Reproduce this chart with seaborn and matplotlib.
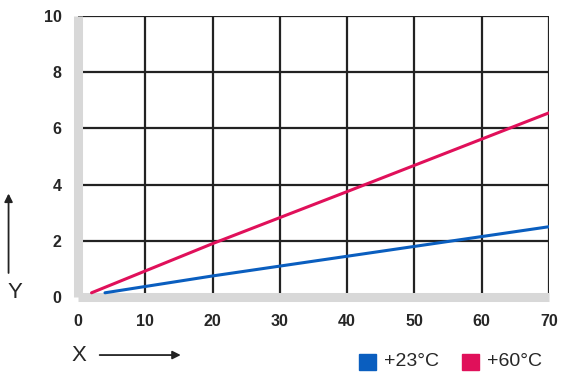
import matplotlib
matplotlib.use("Agg")
import matplotlib.pyplot as plt
import seaborn as sns
import pandas as pd

# values
x_23 = [4, 20, 40, 70]
y_23 = [0.15, 0.75, 1.45, 2.5]
x_60 = [2, 20, 40, 70]
y_60 = [0.15, 1.9, 3.75, 6.55]
series = ["+23°C", "+60°C"]
colors = ["#0a5ebf", "#e0105a"]
xticks = [0, 10, 20, 30, 40, 50, 60, 70]
yticks = [0, 2, 4, 6, 8, 10]

df = pd.concat([
    pd.DataFrame({"x": x_23, "y": y_23, "temp": series[0]}),
    pd.DataFrame({"x": x_60, "y": y_60, "temp": series[1]}),
])

sns.set_style("white")
plt.rcParams["font.family"] = ["Liberation Sans", "DejaVu Sans"]

fig = plt.figure(figsize=(5.7, 3.83), dpi=100)
ax = fig.add_axes([0.137, 0.2245, 0.826, 0.734])

sns.lineplot(data=df, x="x", y="y", hue="temp", palette=colors, linewidth=2.2,
             legend=False, ax=ax, zorder=3)

ax.set_xlim(0, 70)
ax.set_ylim(0, 10)
ax.set_xticks(xticks)
ax.set_yticks(yticks)
ax.grid(True, color="#222222", linewidth=1.6)
ax.set_axisbelow(True)
for s in ["top", "right"]:
    ax.spines[s].set_visible(False)
for s in ["left", "bottom"]:
    ax.spines[s].set_color("#d8d8d8")
    ax.spines[s].set_linewidth(6.5)
    ax.spines[s].set_capstyle("butt")
ax.tick_params(axis="both", length=4, width=1.6, color="#222222", labelsize=11.5, pad=8)
for lab in ax.get_xticklabels() + ax.get_yticklabels():
    lab.set_fontweight("bold")
ax.set_xlabel("")
ax.set_ylabel("")

# axis names with arrows
fig.text(0.014, 0.236, "Y", fontsize=16, ha="left", va="center")
fig.add_artist(matplotlib.patches.FancyArrowPatch((0.015, 0.28), (0.015, 0.502),
               transform=fig.transFigure, arrowstyle="-|>", mutation_scale=12,
               color="#222222", linewidth=1.3))
fig.text(0.126, 0.073, "X", fontsize=16, ha="left", va="center")
fig.add_artist(matplotlib.patches.FancyArrowPatch((0.17, 0.073), (0.322, 0.073),
               transform=fig.transFigure, arrowstyle="-|>", mutation_scale=12,
               color="#222222", linewidth=1.3))

# legend
for i, (lab, c) in enumerate(zip(series, colors)):
    x0 = 0.630 + i * 0.181
    fig.patches.append(matplotlib.patches.Rectangle((x0, 0.034), 0.029, 0.043,
                       transform=fig.transFigure, color=c))
    fig.text(x0 + 0.043, 0.055, lab, fontsize=14, ha="left", va="center")

fig.savefig("out.png", dpi=100)
